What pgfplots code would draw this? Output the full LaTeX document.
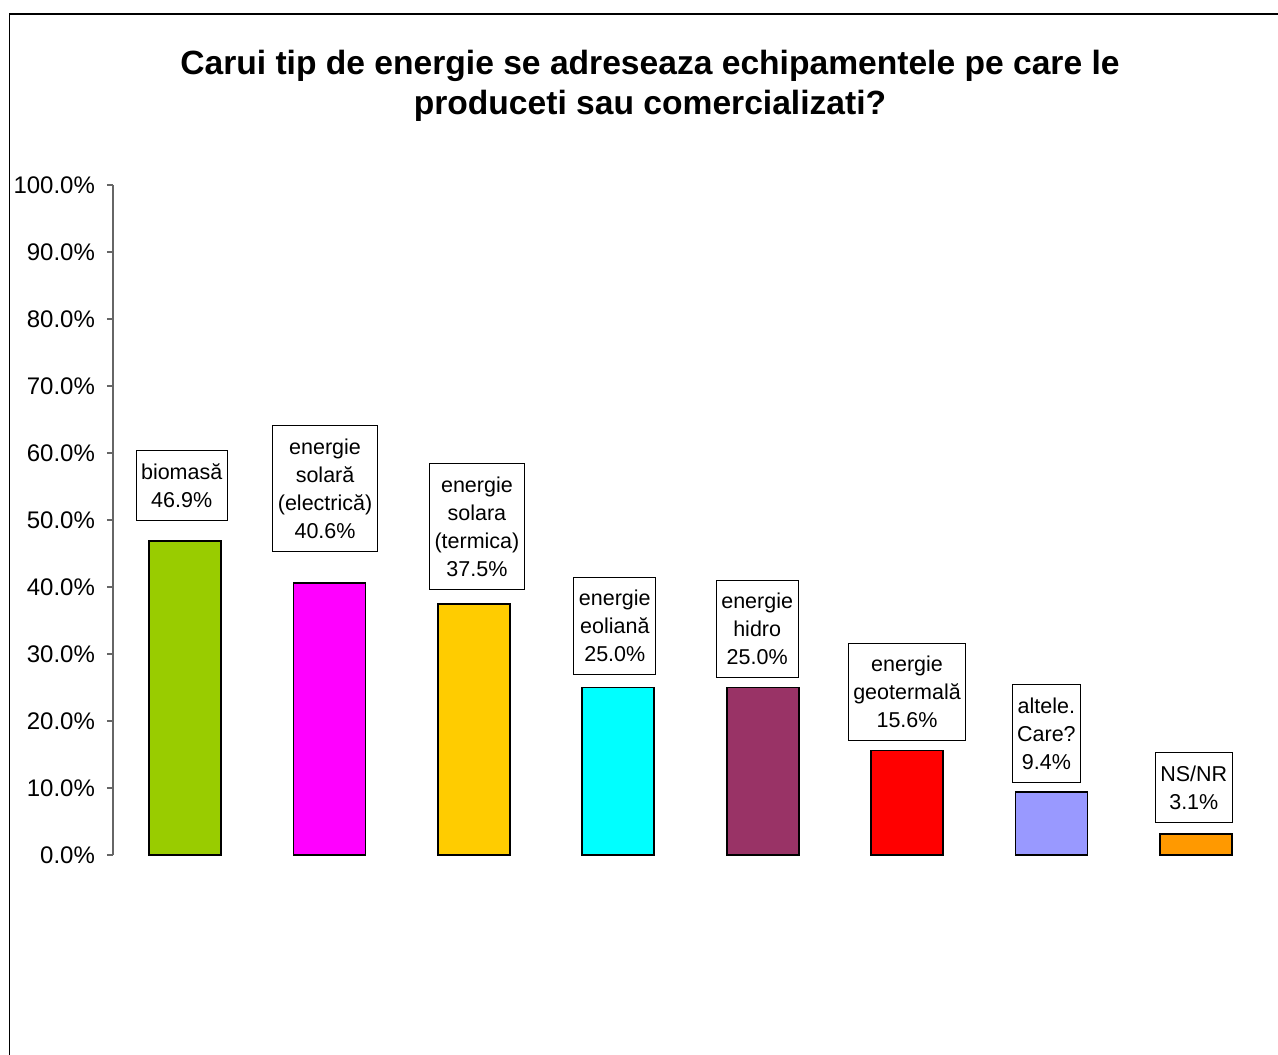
\documentclass[border=0pt]{standalone}
\usepackage{fontspec}
\setmainfont{Liberation Sans}
\usepackage{pgfplots}
\pgfplotsset{compat=1.18}

\definecolor{barlime}{RGB}{153,204,0}
\definecolor{barmagenta}{RGB}{255,0,255}
\definecolor{bargold}{RGB}{255,204,0}
\definecolor{barcyan}{RGB}{0,255,255}
\definecolor{barplum}{RGB}{153,51,102}
\definecolor{barred}{RGB}{255,0,0}
\definecolor{barlavender}{RGB}{153,153,255}
\definecolor{barorange}{RGB}{255,153,0}

\begin{document}
\begin{tikzpicture}
\useasboundingbox (-56.5pt,-99.5pt) rectangle (582.5pt,427.5pt);
% outer chart frame (only left and top edges visible)
\draw[line width=0.9pt] (-51.75pt,-120pt) -- (-51.75pt,420.5pt) -- (600pt,420.5pt);
\node[font=\fontsize{16.8}{20}\selectfont\bfseries, align=center]
  at (268.5pt,384.5pt) {Carui tip de energie se adreseaza echipamentele pe care le\\produceti sau comercializati?};

\begin{axis}[
  at={(0pt,0pt)}, anchor=south west,
  scale only axis,
  width=577.5pt, height=335pt,
  xmin=-0.5, xmax=7.5,
  ymin=0, ymax=100,
  axis x line=none,
  axis y line=left,
  axis line style={-, draw=gray!80!black, line width=0.8pt},
  ytick={0,10,...,100},
  tick align=outside,
  major tick length=3pt,
  tick style={draw=gray!80!black, line width=0.8pt},
  yticklabel={\pgfmathprintnumber[fixed,fixed zerofill,precision=1]{\tick}\%},
  yticklabel style={font=\fontsize{12}{14}\selectfont, xshift=-2.5pt,
    /pgf/number format/assume math mode=true},
  clip=false,
  every axis plot/.append style={ybar, bar width=36pt, draw=black, line width=0.9pt},
  every node near coord/.append style={align=center, draw=black, fill=white,
    line width=0.5pt, font=\fontsize{10.75}{14}\selectfont, inner xsep=2.5pt, inner ysep=6.5pt,
    text=black},
]
\addplot[fill=barlime, nodes near coords={biomasă\\46.9\%},
  every node near coord/.append style={xshift=-1.75pt, yshift=10pt}]
  coordinates {(0,46.9)};
\addplot[fill=barmagenta, nodes near coords={energie\\solară\\(electrică)\\40.6\%},
  every node near coord/.append style={xshift=-2.25pt, yshift=15.5pt}]
  coordinates {(1,40.6)};
\addplot[fill=bargold, nodes near coords={energie\\solara\\(termica)\\37.5\%},
  every node near coord/.append style={xshift=1.5pt, yshift=7pt}]
  coordinates {(2,37.5)};
\addplot[fill=barcyan, nodes near coords={energie\\eoliană\\25.0\%},
  every node near coord/.append style={xshift=-1.75pt, yshift=6pt}]
  coordinates {(3,25.0)};
\addplot[fill=barplum, nodes near coords={energie\\hidro\\25.0\%},
  every node near coord/.append style={xshift=-2.75pt, yshift=4.5pt}]
  coordinates {(4,25.0)};
\addplot[fill=barred, nodes near coords={energie\\geotermală\\15.6\%},
  every node near coord/.append style={xshift=0pt, yshift=4.5pt}]
  coordinates {(5,15.6)};
\addplot[fill=barlavender, nodes near coords={altele.\\Care?\\9.4\%},
  every node near coord/.append style={xshift=-2.5pt, yshift=4.5pt}]
  coordinates {(6,9.4)};
\addplot[fill=barorange, nodes near coords={NS/NR\\3.1\%},
  every node near coord/.append style={xshift=-1pt, yshift=5.5pt}]
  coordinates {(7,3.1)};
\end{axis}
\end{tikzpicture}
\end{document}
